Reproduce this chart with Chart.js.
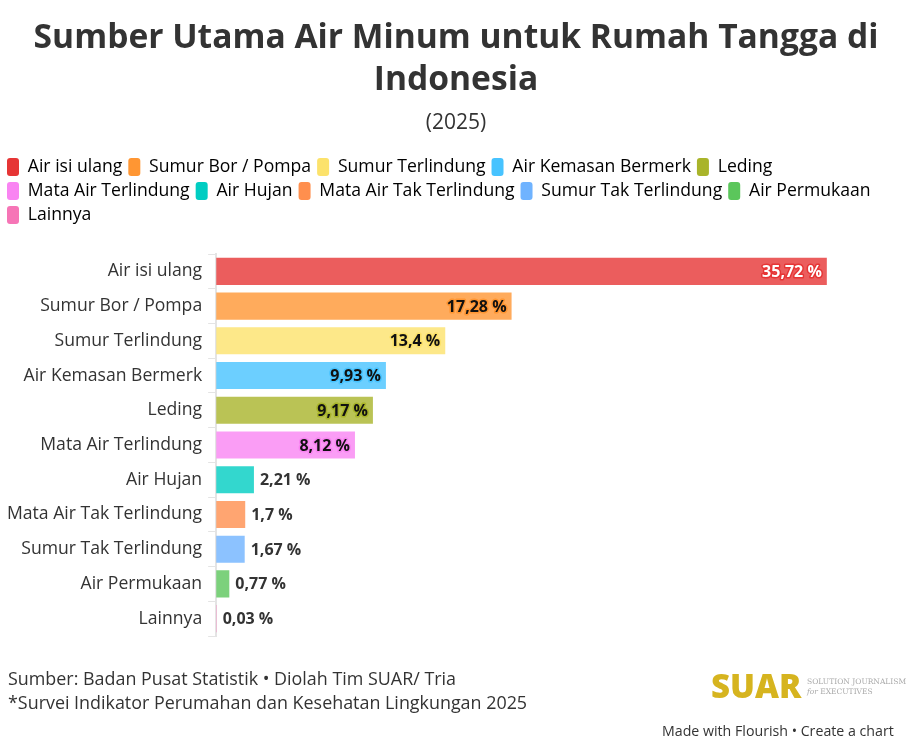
<!DOCTYPE html>
<html><head><meta charset="utf-8">
<script src="https://cdn.jsdelivr.net/npm/chart.js@4.4.1/dist/chart.umd.min.js"></script>
<style>
html,body{margin:0;padding:0;background:#fff;}
#wrap{position:relative;width:912px;height:743px;overflow:hidden;font-family:"Open Sans","Noto Sans",sans-serif;color:#333;}
#c{position:absolute;left:0;top:0;}
#title{position:absolute;left:0;top:14px;width:912px;text-align:center;font-weight:700;font-size:33.6px;line-height:42px;color:#333;}
#sub{position:absolute;left:0;top:106px;width:912px;text-align:center;font-size:21px;line-height:30px;color:#333;}
#foot{position:absolute;left:8px;top:666px;font-size:17.9px;line-height:24px;color:#333;}
#logo{position:absolute;left:711px;top:664px;font-weight:800;font-size:33px;line-height:44px;color:#d6b41f;}
#logosub{position:absolute;left:807px;top:677px;font-family:"DejaVu Serif",serif;font-size:7.5px;line-height:10px;color:#aaa;}
#made{position:absolute;left:662px;top:721px;font-size:14.2px;line-height:20px;color:#333;}
</style></head>
<body><div id="wrap">
<canvas id="c" width="912" height="743"></canvas>
<div id="title">Sumber Utama Air Minum untuk Rumah Tangga di<br>Indonesia</div>
<div id="sub">(2025)</div>
<div id="foot">Sumber: Badan Pusat Statistik • Diolah Tim SUAR/ Tria<br>*Survei Indikator Perumahan dan Kesehatan Lingkungan 2025</div>
<div id="logo">SUAR</div>
<div id="logosub">SOLUTION JOURNALISM<br><i>for</i> EXECUTIVES</div>
<div id="made">Made with Flourish • Create a chart</div>
</div>
<script>
const categories = ["Air isi ulang","Sumur Bor / Pompa","Sumur Terlindung","Air Kemasan Bermerk","Leding","Mata Air Terlindung","Air Hujan","Mata Air Tak Terlindung","Sumur Tak Terlindung","Air Permukaan","Lainnya"];
const values = [35.72,17.28,13.4,9.93,9.17,8.12,2.21,1.7,1.67,0.77,0.03];
const colors = ["#e63535","#ff9633","#fce26b","#47c3ff","#a9b42a","#f984f2","#00cdc2","#ff8f4e","#6fb3ff","#5bc65b","#f675b6"];
const xMax = 40;

function alpha(hex,a){const n=parseInt(hex.slice(1),16);return `rgba(${n>>16},${(n>>8)&255},${n&255},${a})`;}
const FONT = '"Open Sans", "Noto Sans", sans-serif';
function fmt(v){return String(v).replace('.',',')+' %';}

const legendGap = {
  id:'legendGap',
  beforeInit(chart){
    const lg=chart.legend; const f=lg.fit;
    lg.fit=function(){f.call(lg); this.height+=20;};
  }
};

const labelPlugin = {
  id:'valLabels',
  afterDatasetsDraw(chart){
    const ctx=chart.ctx; const meta=chart.getDatasetMeta(0);
    ctx.save();
    ctx.font='bold 16px '+FONT; ctx.textBaseline='middle'; ctx.lineJoin='round';
    meta.data.forEach((bar,i)=>{
      const t=fmt(values[i]); const w=ctx.measureText(t).width;
      const bw=bar.x-bar.base;
      if(bw>w+14){
        ctx.textAlign='right';
        ctx.lineWidth=3; ctx.strokeStyle=colors[i];
        ctx.strokeText(t,bar.x-5,bar.y+1);
        ctx.fillStyle=i===0?'#fff':'#111';
        ctx.fillText(t,bar.x-5,bar.y+1);
      } else {
        ctx.textAlign='left';
        ctx.lineWidth=3; ctx.strokeStyle='#fff';
        ctx.strokeText(t,bar.x+6,bar.y+1);
        ctx.fillStyle='#333';
        ctx.fillText(t,bar.x+6,bar.y+1);
      }
    });
    ctx.restore();
  }
};

new Chart(document.getElementById('c'),{
  type:'bar',
  data:{labels:categories,datasets:[{data:values,backgroundColor:colors.map(c=>alpha(c,0.8)),borderWidth:0,barPercentage:0.78,categoryPercentage:1}]},
  options:{
    indexAxis:'y',responsive:false,animation:false,
    layout:{padding:{left:1,right:12,top:152,bottom:107}},
    scales:{
      x:{display:false,min:0,max:xMax},
      y:{
        grid:{drawOnChartArea:false,drawTicks:true,tickLength:8,color:'#e4e4e4'},
        border:{display:true,color:'#e4e4e4',width:2},
        ticks:{color:'#333',font:{family:FONT,size:17.6},padding:6}
      }
    },
    plugins:{
      title:{display:false},
      legend:{display:true,align:'start',
        labels:{color:'#333',font:{family:FONT,size:17.6},boxWidth:12,boxHeight:18,padding:6,useBorderRadius:true,borderRadius:3,
          generateLabels(){return categories.map((c,i)=>({text:c,fillStyle:colors[i],strokeStyle:colors[i],lineWidth:0,borderRadius:3,index:i}));}
        },
        onClick(){}
      },
      tooltip:{enabled:false}
    }
  },
  plugins:[labelPlugin,legendGap]
});
</script></body></html>
